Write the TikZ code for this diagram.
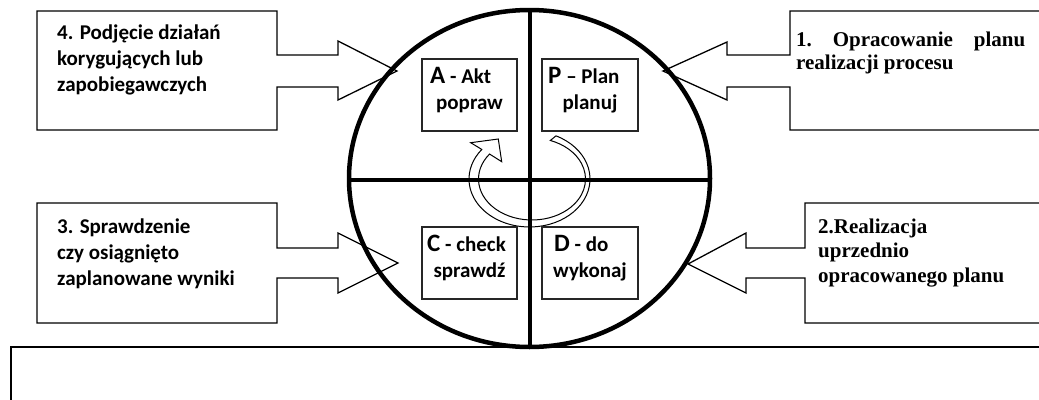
\documentclass[tikz,border=0pt]{standalone}
\usepackage{fontspec}
\setmainfont{Carlito}
\newfontfamily\tnr{Liberation Serif}
\begin{document}
\begin{tikzpicture}[x=1pt,y=1pt,
  callout/.style={draw=black, line width=1.3pt, fill=white, line join=miter},
  inbox/.style={draw=black!85, line width=1.2pt, fill=white},
  ltxt/.style={anchor=base west, inner sep=0pt, font=\bfseries\fontsize{21}{26}\selectfont},
  rtxt/.style={anchor=base west, inner sep=0pt, font=\tnr\bfseries\fontsize{21}{24}\selectfont},
  itxt/.style={inner sep=0pt, font=\bfseries\fontsize{21}{26}\selectfont},
  big/.style={line width=4pt},
]
\useasboundingbox (0,0) rectangle (1039,-399);
\begin{scope}
\clip (0,0) rectangle (1039,-399);
% bottom box
\draw[line width=1.5pt] (11,-347) rectangle (1050,-410);
% callouts
\draw[callout] (37,-11) -- (277,-11) -- (277,-55) -- (338,-55) -- (338,-41) -- (397,-71) -- (338,-100) -- (338,-87) -- (277,-87) -- (277,-130) -- (37,-130) -- cycle;
\draw[callout] (1050,-11) -- (790,-11) -- (790,-55) -- (727,-55) -- (727,-42) -- (663,-71) -- (727,-100) -- (727,-87) -- (790,-87) -- (790,-130) -- (1050,-130);
\draw[callout] (37,-203) -- (277,-203) -- (277,-248) -- (338,-248) -- (338,-233) -- (398,-263) -- (338,-293) -- (338,-278) -- (277,-278) -- (277,-323) -- (37,-323) -- cycle;
\draw[callout] (1050,-203) -- (805,-203) -- (805,-248) -- (746,-248) -- (746,-233) -- (688,-264) -- (746,-293) -- (746,-278) -- (805,-278) -- (805,-323) -- (1050,-323);
\end{scope}
% circle
\draw[line width=4.5pt] (529.5,-178.5) ellipse[x radius=180.5, y radius=168.5];
% ring arrow
\draw[line width=1pt, fill=white, line join=miter] (556.02,-135.86) arc[start angle=64, end angle=-218, x radius=60.5, y radius=48] -- (470.7,-142.7) -- (498.3,-139) -- (501.7,-161.7) -- (489.56,-154.04) arc[start angle=-217.5, end angle=70, x radius=53.5, y radius=41] -- cycle;
% cross
\coordinate (ctop) at (530,-10);
\coordinate (cbot) at (530,-347);
\coordinate (cleft) at (349,-180);
\coordinate (cright) at (710,-180);
\draw[big] (ctop) -- (cbot);
\draw[big] (cleft) -- (cright);
% inner boxes
\draw[inbox] (422,-59) rectangle (517,-131);
\draw[inbox] (542,-59) rectangle (638,-131);
\draw[inbox] (422,-227) rectangle (517,-299);
\draw[inbox] (542,-227) rectangle (638,-299);
% texts
\node[ltxt] (t4a) at (57,-39) {4. Podjęcie działań};
\node[ltxt] (t4b) at (57,-65) {korygujących lub};
\node[ltxt] (t4c) at (57,-91) {zapobiegawczych};
\node[ltxt] (t3a) at (57,-233) {3. Sprawdzenie};
\node[ltxt] (t3b) at (57,-259) {czy osiągnięto};
\node[ltxt] (t3c) at (57,-285) {zaplanowane wyniki};
\node[rtxt] (t1a) at (796,-46) {\hbox to 229pt{1.\hfill Opracowanie\hfill planu}};
\node[rtxt] (t1b) at (796,-69) {realizacji procesu};
\node[rtxt] (t2a) at (818,-233) {2.Realizacja};
\node[rtxt] (t2b) at (818,-257) {uprzednio};
\node[rtxt] (t2c) at (818,-282) {opracowanego planu};
\node[itxt, anchor=base west] (ia1) at (430,-83) {{\fontsize{25}{26}\selectfont A} - Akt};
\node[itxt, anchor=base] (ia2) at (469.5,-109) {popraw};
\node[itxt, anchor=base west] (ip1) at (548,-83) {{\fontsize{25}{26}\selectfont P} – Plan};
\node[itxt, anchor=base] (ip2) at (590,-109) {planuj};
\node[itxt, anchor=base west] (ic1) at (427,-251) {{\fontsize{25}{26}\selectfont C} - check};
\node[itxt, anchor=base] (ic2) at (469.5,-277) {sprawdź};
\node[itxt, anchor=base west] (id1) at (554,-251) {{\fontsize{25}{26}\selectfont D} - do};
\node[itxt, anchor=base] (id2) at (590,-277) {wykonaj};
\end{tikzpicture}
\end{document}
